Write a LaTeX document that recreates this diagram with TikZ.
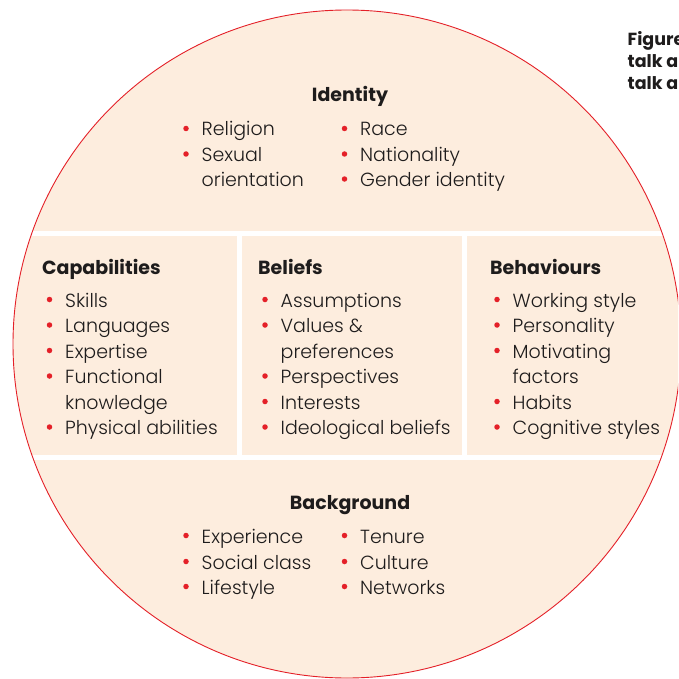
\documentclass[tikz,border=0pt]{standalone}
\usepackage{fontspec}
\setmainfont{Poppins}
\newfontfamily\lightfont{Poppins Light}
\definecolor{peach}{RGB}{253,237,222}
\definecolor{rred}{RGB}{228,32,40}
\definecolor{ink}{RGB}{30,28,28}
\newcommand\bulletitem[4]{%
  \node[dot] (#1b) at (#2-15.5,#3-7.5) {};
  \node[itm] (#1) at (#2,#3) {#4};}
\newcommand\contitem[4]{\node[itm] (#1) at (#2,#3) {#4};}
\begin{document}
\begin{tikzpicture}[x=1pt,y=-1pt,
  itm/.style={anchor=base west, inner sep=0pt, font=\lightfont\fontsize{19}{19}\selectfont, text=ink},
  ttl/.style={anchor=base west, inner sep=0pt, font=\fontsize{19}{19}\selectfont\bfseries, text=ink},
  figcap/.style={anchor=base west, inner sep=0pt, font=\fontsize{17.5}{17.5}\selectfont\bfseries, text=ink},
  dot/.style={circle, fill=rred, inner sep=0pt, minimum size=5.5pt},
  gap/.style={white, line width=5pt}]
\useasboundingbox (0,0) rectangle (678,679);
\begin{scope}
  \clip (0,0) rectangle (678,679);
  \fill[peach] (347,344) circle[radius=334pt];
  \begin{scope}
    \clip (347,344) circle[radius=334pt];
    \draw[gap] (0,233) -- (678,233);
    \draw[gap] (0,457.5) -- (678,457.5);
    \draw[gap] (239,233) -- (239,457.5);
    \draw[gap] (464.5,233) -- (464.5,457.5);
  \end{scope}
  \draw[rred, line width=0.9pt] (347,344) circle[radius=334pt];
  % caption fragment
  \node[figcap] (f1) at (627.5,46) {Figure};
  \node[figcap] (f2) at (627.5,68) {talk a};
  \node[figcap] (f3) at (627.5,90) {talk a};
\end{scope}
% Identity
\node[ttl, anchor=base] (idt) at (350,102) {Identity};
\bulletitem{i1}{201.5}{136}{Religion}
\bulletitem{i2}{201.5}{161.5}{Sexual}
\contitem{i2c}{201.5}{186.5}{orientation}
\bulletitem{i3}{360}{136}{Race}
\bulletitem{i4}{360}{161.5}{Nationality}
\bulletitem{i5}{360}{186.5}{Gender identity}
% Capabilities
\node[ttl] (cpt) at (42,274) {Capabilities};
\bulletitem{c1}{65}{307}{Skills}
\bulletitem{c2}{65}{332.5}{Languages}
\bulletitem{c3}{65}{358}{Expertise}
\bulletitem{c4}{65}{383.5}{Functional}
\contitem{c4c}{65}{409}{knowledge}
\bulletitem{c5}{65}{434.5}{Physical abilities}
% Beliefs
\node[ttl] (bet) at (258,274) {Beliefs};
\bulletitem{b1}{280.5}{307}{Assumptions}
\bulletitem{b2}{280.5}{332.5}{Values \&}
\contitem{b2c}{280.5}{358}{preferences}
\bulletitem{b3}{280.5}{383.5}{Perspectives}
\bulletitem{b4}{280.5}{409}{Interests}
\bulletitem{b5}{280.5}{434.5}{Ideological beliefs}
% Behaviours
\node[ttl] (bht) at (490,274) {Behaviours};
\bulletitem{h1}{512.5}{307}{Working style}
\bulletitem{h2}{512.5}{332.5}{Personality}
\bulletitem{h3}{512.5}{358}{Motivating}
\contitem{h3c}{512.5}{383.5}{factors}
\bulletitem{h4}{512.5}{409}{Habits}
\bulletitem{h5}{512.5}{434.5}{Cognitive styles}
% Background
\node[ttl, anchor=base] (bgt) at (350,509) {Background};
\bulletitem{g1}{201.5}{543}{Experience}
\bulletitem{g2}{201.5}{569}{Social class}
\bulletitem{g3}{201.5}{594}{Lifestyle}
\bulletitem{g4}{360}{543}{Tenure}
\bulletitem{g5}{360}{569}{Culture}
\bulletitem{g6}{360}{594}{Networks}
\end{tikzpicture}
\end{document}
